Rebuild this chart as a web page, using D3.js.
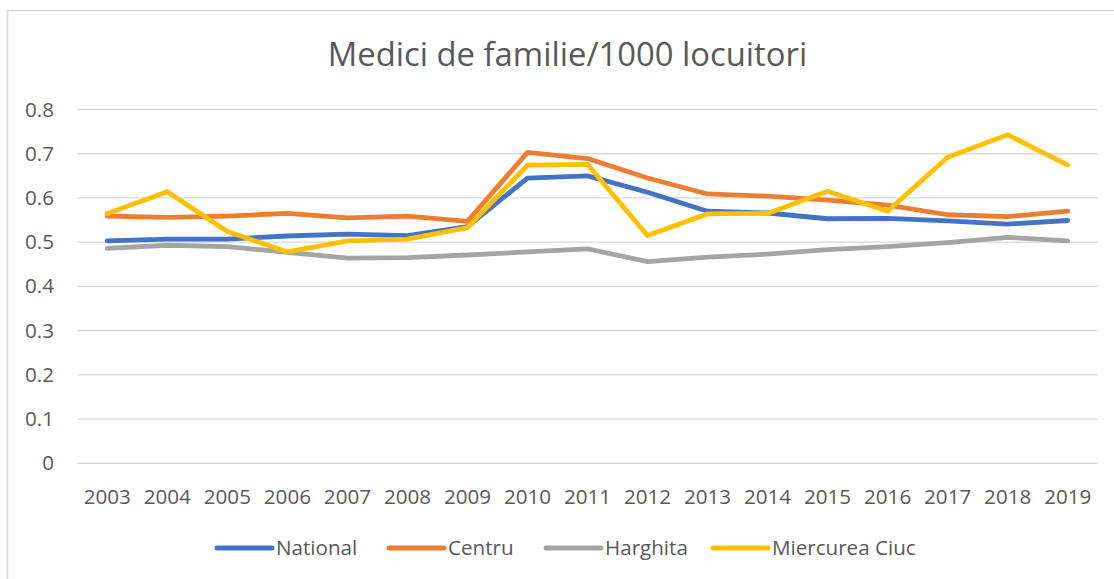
<!DOCTYPE html>
<html>
<head>
<meta charset="utf-8">
<script src="https://cdn.jsdelivr.net/npm/d3@7"></script>
<style>
  html, body { margin: 0; padding: 0; background: #fff; }
  svg { display: block; font-family: "Open Sans", sans-serif; }
</style>
</head>
<body>
<svg id="chart" width="1114" height="579"></svg>
<script>
// Family doctors per 1000 inhabitants, 2003–2019
const years = ["2003","2004","2005","2006","2007","2008","2009","2010","2011","2012","2013","2014","2015","2016","2017","2018","2019"];
const national = [0.503,0.507,0.507,0.514,0.518,0.515,0.535,0.645,0.650,0.613,0.570,0.566,0.553,0.554,0.548,0.541,0.549];
const centru = [0.559,0.556,0.559,0.565,0.555,0.559,0.547,0.703,0.689,0.645,0.609,0.604,0.595,0.584,0.562,0.558,0.570];
const harghita = [0.486,0.493,0.490,0.477,0.464,0.465,0.471,0.478,0.485,0.456,0.466,0.473,0.483,0.490,0.499,0.511,0.503];
const miercurea = [0.565,0.614,0.524,0.478,0.503,0.507,0.533,0.674,0.676,0.515,0.564,0.565,0.615,0.570,0.692,0.743,0.674];
const seriesNames = ["National","Centru","Harghita","Miercurea Ciuc"];
const seriesColors = ["#4472C4","#ED7D31","#A5A5A5","#FFC000"];
const yTicks = [0,0.1,0.2,0.3,0.4,0.5,0.6,0.7,0.8];
const title = "Medici de familie/1000 locuitori";

const series = [national, centru, harghita, miercurea].map((vals, i) => ({
  name: seriesNames[i], color: seriesColors[i], values: vals
}));

const svg = d3.select("#chart");
const textColor = "#595959";

// chart frame (top and left edges visible)
svg.append("path")
  .attr("d", "M7.5,579 V10.5 H1114")
  .attr("fill", "none").attr("stroke", "#d9d9d9").attr("stroke-width", 1.6);

const plot = { left: 77.3, right: 1097.7, top: 109.5, bottom: 463.3 };

const x = d3.scaleBand().domain(years).range([plot.left, plot.right]);
const y = d3.scaleLinear().domain([0, 0.8]).range([plot.bottom, plot.top]);

// horizontal gridlines
svg.append("g").selectAll("line").data(yTicks).join("line")
  .attr("x1", plot.left).attr("x2", plot.right)
  .attr("y1", d => y(d)).attr("y2", d => y(d))
  .attr("stroke", "#d9d9d9").attr("stroke-width", 1.3);

// y axis labels
const yAxis = d3.axisLeft(y).tickValues(yTicks).tickSize(0).tickPadding(0)
  .tickFormat(d => d === 0 ? "0" : d3.format(".1f")(d));
const gy = svg.append("g").attr("transform", "translate(54,0)").call(yAxis);
gy.select(".domain").remove();
gy.selectAll("text").attr("fill", textColor).attr("font-size", 20.6)
  .attr("font-family", "Open Sans, sans-serif");

// x axis labels
const xAxis = d3.axisBottom(x).tickSize(0).tickPadding(0);
const gx = svg.append("g").attr("transform", `translate(0,${plot.bottom})`).call(xAxis);
gx.select(".domain").remove();
gx.selectAll("text").attr("fill", textColor).attr("font-size", 20.6)
  .attr("font-family", "Open Sans, sans-serif").attr("dy", "1.98em");

// lines
const line = d3.line()
  .x((d, i) => x(years[i]) + x.bandwidth() / 2)
  .y(d => y(d));

svg.append("g").selectAll("path").data(series).join("path")
  .attr("d", d => line(d.values))
  .attr("fill", "none")
  .attr("stroke", d => d.color)
  .attr("stroke-width", 4.8)
  .attr("stroke-linejoin", "round")
  .attr("stroke-linecap", "round");

// title
svg.append("text")
  .attr("x", 567.5).attr("y", 66)
  .attr("text-anchor", "middle")
  .attr("fill", textColor)
  .attr("font-size", 32.8)
  .text(title);

// legend
const legendX = [217, 389, 546, 713];
const legendY = 548;
const lg = svg.append("g").selectAll("g").data(series).join("g")
  .attr("transform", (d, i) => `translate(${legendX[i]},${legendY})`);
lg.append("line")
  .attr("x1", 0).attr("x2", 55).attr("y1", 0).attr("y2", 0)
  .attr("stroke", d => d.color).attr("stroke-width", 5).attr("stroke-linecap", "round");
lg.append("text")
  .attr("x", 59).attr("y", 0).attr("dy", "0.35em")
  .attr("fill", textColor).attr("font-size", 20.6)
  .text(d => d.name);
</script>
</body>
</html>
